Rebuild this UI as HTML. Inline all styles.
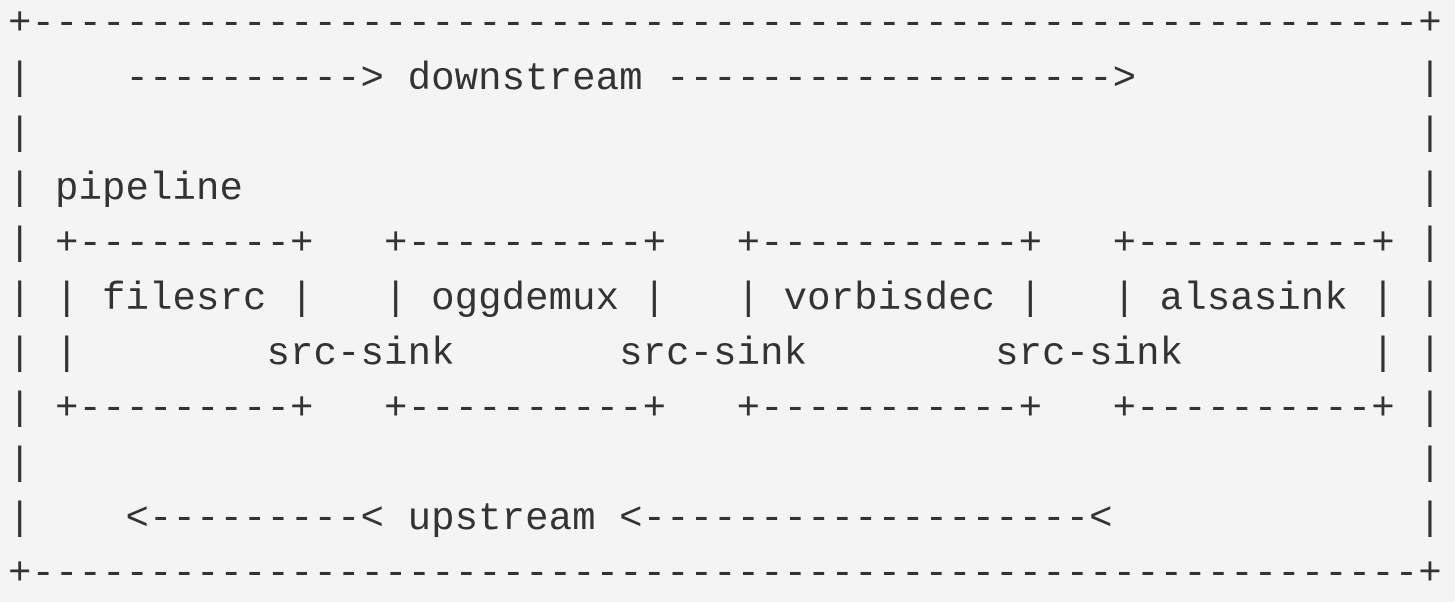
<!DOCTYPE html>
<html><head><meta charset="utf-8"><style>
html,body{margin:0;padding:0;width:1455px;height:595px;overflow:hidden;background:#f4f4f4;}
pre{position:absolute;left:8px;top:-3px;margin:0;font-family:"Liberation Mono","DejaVu Sans Mono",monospace;font-size:39px;letter-spacing:0.1px;line-height:55px;color:#333;}
</style></head><body><pre>+-----------------------------------------------------------+
|    ----------> downstream ------------------->            |
|                                                           |
| pipeline                                                  |
| +---------+   +----------+   +-----------+   +----------+ |
| | filesrc |   | oggdemux |   | vorbisdec |   | alsasink | |
| |        src-sink       src-sink        src-sink        | |
| +---------+   +----------+   +-----------+   +----------+ |
|                                                           |
|    <---------< upstream <-------------------<             |
+-----------------------------------------------------------+</pre></body></html>
